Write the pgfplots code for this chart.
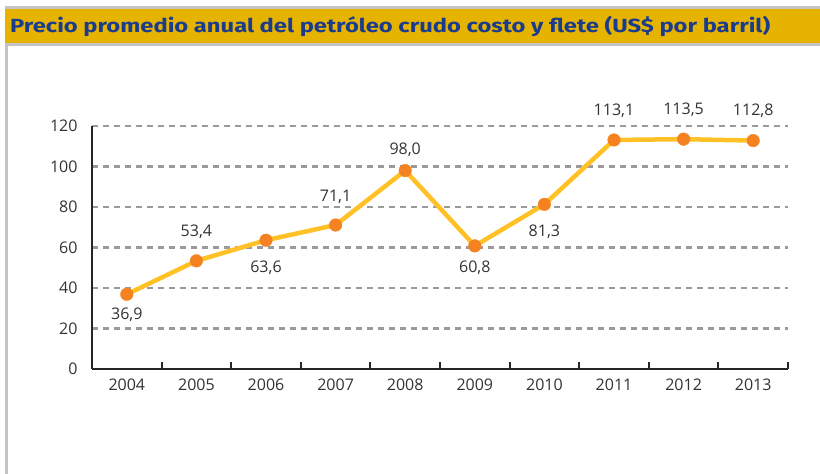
\documentclass[border=0pt]{standalone}
\usepackage{fontspec}
\setmainfont{Open Sans}
\newfontfamily\titlefont{Fira Sans}
\usepackage{pgfplots}
\pgfplotsset{compat=1.18}
\definecolor{banner}{HTML}{E6B400}
\definecolor{titleblue}{HTML}{1B3C8C}
\definecolor{linegold}{HTML}{FFC125}
\definecolor{dotorange}{HTML}{F58220}
\definecolor{gridgray}{HTML}{9A9A9A}
\definecolor{framegray}{HTML}{C4C4C4}
\definecolor{txt}{HTML}{333333}

\pgfplotstableread{
x y lab dy
0 36.9 36,9 -20
1 53.4 53,4 29
2 63.6 63,6 -28
3 71.1 71,1 28
4 98.0 98,0 21
5 60.8 60,8 -22
6 81.3 81,3 -27
7 113.1 113,1 29
8 113.5 113,5 29
9 112.8 112,8 30
}\petroleo

\begin{document}
\begin{tikzpicture}
\useasboundingbox (0pt,0pt) rectangle (820pt,474pt);
% marco y franja del titulo
\fill[framegray] (5pt,465pt) rectangle (820pt,468pt);
\fill[banner] (5pt,431pt) rectangle (820pt,465pt);
\fill[framegray] (5pt,428pt) rectangle (820pt,431pt);
\fill[framegray] (5pt,0pt) rectangle (8pt,428pt);
\node[anchor=west, text=titleblue, font=\titlefont\bfseries\fontsize{19}{22}\selectfont, inner sep=0pt] at (10pt,448pt)
  {\scalebox{1.25}[1]{Precio promedio anual del petróleo crudo costo y flete (US\$ por barril)}};

\begin{axis}[
    at={(92pt,105pt)}, anchor=south west,
    scale only axis, width=696pt, height=243pt,
    xmin=-0.5, xmax=9.5, ymin=0, ymax=120,
    axis x line=bottom, axis y line=left,
    axis line style={-, line width=2.2pt, black!85},
    xtick={0,...,9},
    xticklabels={2004,2005,2006,2007,2008,2009,2010,2011,2012,2013},
    extra x ticks={0.5,1.5,...,9.5},
    extra x tick labels={},
    extra x tick style={major tick length=7pt, tick align=inside,
      tick style={line width=2pt, black!85}, grid=none},
    major tick length=0pt,
    ytick={0,20,...,120},
    ymajorgrids,
    grid style={gridgray, line width=2.2pt, dash pattern=on 6pt off 5pt},
    tick label style={font=\fontsize{16}{19}\selectfont, text=txt},
    /pgf/number format/assume math mode=true,
    yticklabel style={xshift=-11pt},
    xticklabel style={yshift=-6pt},
    clip=false,
]
\addplot[linegold, line width=4.5pt, mark=*, mark size=6.3pt,
    mark options={solid, draw=dotorange, fill=dotorange, line width=0.4pt}]
    table[x=x, y=y] {\petroleo};
\addplot[draw=none, mark=none, nodes near coords, point meta=explicit symbolic,
    visualization depends on={\thisrow{dy} \as \dy},
    every node near coord/.append style={anchor=center, yshift=\dy,
      font=\fontsize{16}{19}\selectfont, text=txt}]
    table[x=x, y=y, meta=lab] {\petroleo};
\end{axis}
\end{tikzpicture}
\end{document}
